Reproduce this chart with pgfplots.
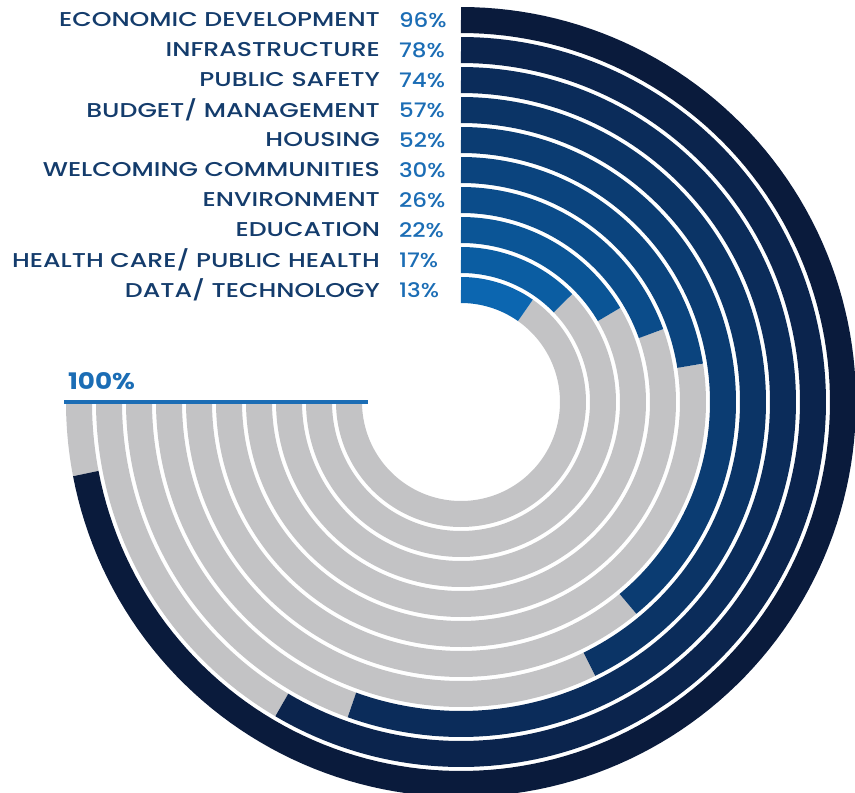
\documentclass[border=0pt]{standalone}
\usepackage{pgfplots}
\usepackage{pgfplotstable}
\usepgfplotslibrary{polar}
\pgfplotsset{compat=1.18}
\usepackage{fontspec}
\setmainfont{Poppins}[UprightFont=* Medium, BoldFont=* Bold, FakeStretch=1.26]
\newfontfamily\pctfont{Poppins}[UprightFont=* Medium, BoldFont=* Bold, FakeStretch=1.15]

\definecolor{ring0}{HTML}{0A1B3C}
\definecolor{ring1}{HTML}{0B244D}
\definecolor{ring2}{HTML}{0B2C5A}
\definecolor{ring3}{HTML}{0B3466}
\definecolor{ring4}{HTML}{0B3C72}
\definecolor{ring5}{HTML}{0B447E}
\definecolor{ring6}{HTML}{0B4C8A}
\definecolor{ring7}{HTML}{0B5596}
\definecolor{ring8}{HTML}{0B5DA2}
\definecolor{ring9}{HTML}{0C66B0}
\definecolor{ringgray}{HTML}{C3C3C5}
\definecolor{namecol}{HTML}{143C6C}
\definecolor{pctcol}{HTML}{1B6DB5}

% ring index (0 = outer), share of 100%, topic
\pgfplotstableread[col sep=comma]{
idx,value,name
0,96,ECONOMIC DEVELOPMENT
1,78,INFRASTRUCTURE
2,74,PUBLIC SAFETY
3,57,BUDGET/ MANAGEMENT
4,52,HOUSING
5,30,WELCOMING COMMUNITIES
6,26,ENVIRONMENT
7,22,EDUCATION
8,17,HEALTH CARE/ PUBLIC HEALTH
9,13,DATA/ TECHNOLOGY
}\topics

\begin{document}
\begin{tikzpicture}
\path[use as bounding box] (0pt,0pt) rectangle (427.5pt,396pt);
\begin{polaraxis}[
    at={(230.5pt,195pt)}, anchor=origin,
    scale only axis, width=400pt,
    xmin=0, xmax=360, ymin=0, ymax=400,
    hide axis, clip=false,
    every node/.style={inner sep=0pt, font=\fontsize{11.4}{13}\selectfont,
        text height=0.7em, text depth=0pt},
]
\pgfplotsinvokeforeach{0,...,9}{
    \pgfplotstablegetelem{#1}{value}\of\topics
    \edef\val{\pgfplotsretval}
    \pgfplotstablegetelem{#1}{name}\of\topics
    \edef\nm{\pgfplotsretval}
    \pgfmathsetmacro\ang{90-2.7*\val}
    \pgfmathsetmacro\rad{382-30*#1}
    \edef\temp{
        \noexpand\addplot[draw=ringgray, line width=13pt, domain=-180:\ang, samples=150] {\rad};
        \noexpand\addplot[draw=ring#1, line width=13pt, domain=\ang:90, samples=150] {\rad};
        \noexpand\node[anchor=east, xshift=-37pt, text=namecol] at (axis cs:90,\rad) {\nm};
        \noexpand\node[anchor=west, xshift=-34.5pt, text=pctcol] at (axis cs:90,\rad) {\noexpand\pctfont\val\noexpand\%};
    }
    \temp
}
\addplot[draw=pctcol, line width=2.2pt] coordinates {(180,93) (180,397)};
\node[anchor=south west, xshift=-2pt, yshift=2.5pt, text=pctcol, font=\fontsize{11.4}{13}\pctfont\bfseries]
    at (axis cs:180,396) {100\%};
\end{polaraxis}
\end{tikzpicture}
\end{document}
